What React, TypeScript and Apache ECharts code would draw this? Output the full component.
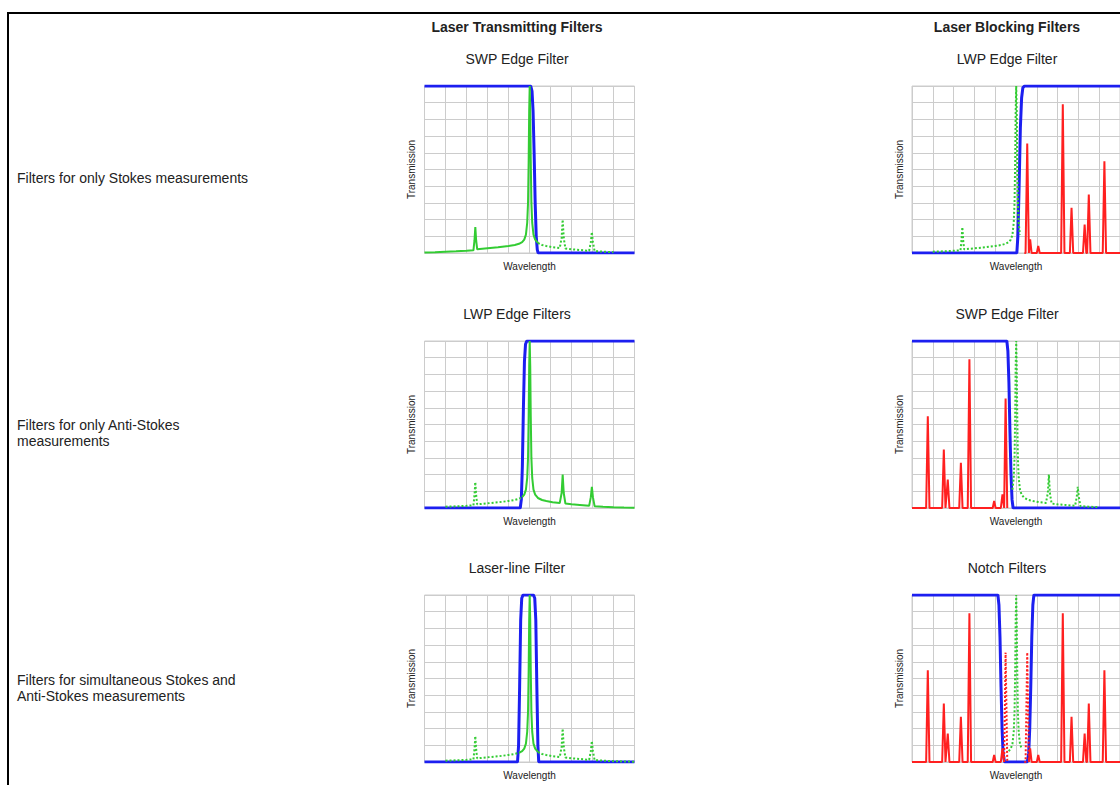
import React, { useEffect, useRef } from "react";
import * as echarts from "echarts";

const FONT = '"Liberation Sans", Arial, Helvetica, sans-serif';
const BLUE = "#1c1ff0";
const GREEN = "#33cc33";
const RED = "#ff2020";
const GRIDC = "#cccccc";
const TEXTC = "#222222";

// Raman spectrum with laser line (green)
const ramanSpectrum: [number, number][] = [
  [0, 0.03], [5, 0.05], [10, 0.08], [15, 0.1], [20, 0.13], [23.3, 0.16], [23.8, 0.75],
  [24.2, 1.55], [24.6, 0.75], [25.1, 0.22], [30, 0.28], [35, 0.34], [40, 0.42], [43, 0.48],
  [45, 0.55], [46.5, 0.65], [47.5, 0.8], [48.3, 1.1], [48.9, 1.8], [49.3, 3], [49.6, 5.5],
  [49.85, 8.5], [50.1, 10], [50.35, 8.5], [50.6, 5.5], [50.9, 3], [51.3, 1.8], [51.9, 1.1],
  [52.7, 0.8], [54, 0.6], [56, 0.48], [58, 0.42], [61, 0.35], [64.4, 0.3], [65.3, 0.9],
  [65.8, 2.0], [66.3, 0.9], [67.1, 0.27], [70, 0.22], [74, 0.18], [78.4, 0.13], [79.2, 0.65],
  [79.7, 1.26], [80.2, 0.65], [81, 0.11], [85, 0.08], [90, 0.05], [95, 0.03], [100, 0.02],
];

// Anti-Stokes Raman lines (red, left of laser)
const antiStokesLines: [number, number][] = [
  [0, 0], [6.8, 0], [7.6, 5.5], [8.4, 0], [14.5, 0], [15.3, 3.5], [16.1, 0], [16.4, 0],
  [17.2, 1.7], [18.0, 0], [22.7, 0], [23.5, 2.7], [24.3, 0], [26.8, 0], [27.6, 8.9],
  [28.4, 0], [38.8, 0], [39.5, 0.42], [40.2, 0], [42.7, 0], [43.5, 0.82], [44.3, 0],
  [45.0, 6.56], [45.8, 0], [46, 0],
];

// Stokes Raman lines (red, right of laser)
const stokesLines: [number, number][] = [
  [54, 0], [54.6, 0], [55.4, 6.56], [56.2, 0], [56.8, 0.82], [57.5, 0],
  [60.0, 0], [60.7, 0.42], [61.4, 0], [71.7, 0], [72.5, 8.9], [73.3, 0], [75.9, 0],
  [76.7, 2.7], [77.5, 0], [82.2, 0], [83.0, 1.7], [83.8, 0], [84.2, 0], [85.0, 3.5],
  [85.8, 0], [91.7, 0], [92.5, 5.5], [93.3, 0], [100, 0],
];

// Filter transmission curves (blue)
const swpTransmit: [number, number][] = [
  [0, 10], [50.6, 10], [51.2, 9.7], [51.7, 8.5], [52.2, 6], [52.7, 3], [53.2, 1], [53.7, 0.2], [54.1, 0], [100, 0],
];
const lwpTransmit: [number, number][] = [
  [0, 0], [45.6, 0], [46.1, 0.5], [46.6, 2.5], [47.1, 6], [47.6, 8.8], [48.1, 9.8], [48.7, 10], [100, 10],
];
const laserLine: [number, number][] = [
  [0, 0], [44.3, 0], [44.8, 1], [45.3, 4.5], [45.8, 8.5], [46.3, 9.8], [46.9, 10], [51.9, 10],
  [52.5, 9.8], [53, 8.5], [53.5, 4.5], [54, 1], [54.4, 0], [100, 0],
];
const lwpBlock: [number, number][] = [
  [0, 0], [50.4, 0], [50.9, 1], [51.5, 4], [52.1, 7.5], [52.7, 9.3], [53.3, 9.9], [54.1, 10], [100, 10],
];
const swpBlock: [number, number][] = [
  [0, 10], [45.6, 10], [46.1, 9.4], [46.6, 7.5], [47.1, 4.5], [47.6, 2], [48.1, 0.5], [48.6, 0], [100, 0],
];
const notch: [number, number][] = [
  [0, 10], [41.3, 10], [41.8, 9.4], [42.3, 7.5], [42.8, 4.5], [43.3, 2], [43.8, 0.5], [44.5, 0],
  [55.4, 0], [56.1, 0.5], [56.6, 2], [57.1, 4.5], [57.6, 7.5], [58.1, 9.4], [58.6, 10], [100, 10],
];

const columnTitles = ["Laser Transmitting Filters", "Laser Blocking Filters"];
const rowLabels = [
  "Filters for only Stokes measurements",
  "Filters for only Anti-Stokes\nmeasurements",
  "Filters for simultaneous Stokes and\nAnti-Stokes measurements",
];
const panelTitles = [
  "SWP Edge Filter", "LWP Edge Filter",
  "LWP Edge Filters", "SWP Edge Filter",
  "Laser-line Filter", "Notch Filters",
];

const pick = (d: [number, number][], a: number, b: number) => d.filter((p) => p[0] >= a && p[0] <= b);

type Seg = { data: [number, number][]; color: string; dotted: boolean };

const panelSegments: { filter: [number, number][]; segs: Seg[] }[] = [
  {
    filter: swpTransmit,
    segs: [
      { data: pick(ramanSpectrum, 0, 54), color: GREEN, dotted: false },
      { data: pick(ramanSpectrum, 54, 90), color: GREEN, dotted: true },
    ],
  },
  {
    filter: lwpBlock,
    segs: [
      { data: pick(ramanSpectrum, 10, 51.9), color: GREEN, dotted: true },
      { data: stokesLines, color: RED, dotted: false },
    ],
  },
  {
    filter: lwpTransmit,
    segs: [
      { data: pick(ramanSpectrum, 10, 46.5), color: GREEN, dotted: true },
      { data: pick(ramanSpectrum, 46.5, 100), color: GREEN, dotted: false },
    ],
  },
  {
    filter: swpBlock,
    segs: [
      { data: antiStokesLines, color: RED, dotted: false },
      { data: pick(ramanSpectrum, 48.3, 90), color: GREEN, dotted: true },
    ],
  },
  {
    filter: laserLine,
    segs: [
      { data: pick(ramanSpectrum, 10, 45), color: GREEN, dotted: true },
      { data: pick(ramanSpectrum, 45, 54), color: GREEN, dotted: false },
      { data: pick(ramanSpectrum, 54, 100), color: GREEN, dotted: true },
    ],
  },
  {
    filter: notch,
    segs: [
      { data: pick(antiStokesLines, 0, 44.3), color: RED, dotted: false },
      { data: pick(antiStokesLines, 44.3, 46), color: RED, dotted: true },
      { data: pick(stokesLines, 54, 56.2), color: RED, dotted: true },
      { data: pick(stokesLines, 56.2, 100), color: RED, dotted: false },
      { data: pick(ramanSpectrum, 46.5, 53.8), color: GREEN, dotted: true },
    ],
  },
];

// layout
const colLeft = [424.5, 912];
const rowTop = [86, 341, 595];
const PW = 210;
const PH = 167;
const colCenter = [517, 1007];

export default function App() {
  const ref = useRef<HTMLDivElement>(null);
  useEffect(() => {
    if (!ref.current) return;
    const chart = echarts.init(ref.current, null, { renderer: "svg" });
    const grids: any[] = [];
    const xAxes: any[] = [];
    const yAxes: any[] = [];
    const series: any[] = [];
    for (let i = 0; i < 6; i++) {
      const r = Math.floor(i / 2);
      const c = i % 2;
      grids.push({
        left: colLeft[c],
        top: rowTop[r],
        width: PW,
        height: PH,
        show: true,
        borderColor: GRIDC,
        borderWidth: 1,
        containLabel: false,
      });
      xAxes.push({
        gridIndex: i,
        type: "value",
        min: 0,
        max: 100,
        interval: 10,
        axisLabel: { show: false },
        axisTick: { show: false },
        axisLine: { show: false },
        splitLine: { show: true, lineStyle: { color: GRIDC, width: 1 } },
        name: "Wavelength",
        nameLocation: "middle",
        nameGap: 8,
        nameTextStyle: { fontSize: 10, color: TEXTC, fontFamily: FONT },
      });
      yAxes.push({
        gridIndex: i,
        type: "value",
        min: 0,
        max: 10,
        interval: 1,
        axisLabel: { show: false },
        axisTick: { show: false },
        axisLine: { show: false },
        splitLine: { show: true, lineStyle: { color: GRIDC, width: 1 } },
        name: "Transmission",
        nameLocation: "middle",
        nameGap: 8,
        nameTextStyle: { fontSize: 10, color: TEXTC, fontFamily: FONT },
      });
      const p = panelSegments[i];
      series.push({
        type: "line",
        xAxisIndex: i,
        yAxisIndex: i,
        data: p.filter,
        showSymbol: false,
        symbol: "none",
        silent: true,
        lineStyle: { color: BLUE, width: 3 },
        z: 2,
      });
      p.segs.forEach((s) => {
        series.push({
          type: "line",
          xAxisIndex: i,
          yAxisIndex: i,
          data: s.data,
          showSymbol: false,
          symbol: "none",
          silent: true,
          lineStyle: { color: s.color, width: 2, type: s.dotted ? [2, 2] : "solid" },
          z: 3,
        });
      });
    }
    const graphics: any[] = [
      {
        type: "rect",
        shape: { x: 8, y: 13, width: 1300, height: 900 },
        style: { fill: "none", stroke: "#000", lineWidth: 2 },
        silent: true,
      },
    ];
    columnTitles.forEach((t, c) => {
      graphics.push({
        type: "text",
        x: colCenter[c],
        y: 27,
        style: {
          text: t,
          fill: TEXTC,
          font: `bold 14px ${FONT}`,
          textAlign: "center",
          textVerticalAlign: "middle",
        },
      });
    });
    panelTitles.forEach((t, i) => {
      const r = Math.floor(i / 2);
      const c = i % 2;
      graphics.push({
        type: "text",
        x: colCenter[c],
        y: rowTop[r] - 27,
        style: {
          text: t,
          fill: TEXTC,
          font: `14px ${FONT}`,
          textAlign: "center",
          textVerticalAlign: "middle",
        },
      });
    });
    const rowLabelTop = [170, 417, 672];
    rowLabels.forEach((t, r) => {
      graphics.push({
        type: "text",
        x: 17,
        y: rowLabelTop[r],
        style: {
          text: t,
          fill: TEXTC,
          font: `14px ${FONT}`,
          lineHeight: 16,
          textAlign: "left",
          textVerticalAlign: "top",
        },
      });
    });
    chart.setOption({
      animation: false,
      backgroundColor: "#ffffff",
      grid: grids,
      xAxis: xAxes,
      yAxis: yAxes,
      series,
      graphic: graphics,
    });
    return () => chart.dispose();
  }, []);
  return (
    <div
      ref={ref}
      style={{ position: "absolute", left: 0, top: 0, width: 1120, height: 785 }}
    />
  );
}
